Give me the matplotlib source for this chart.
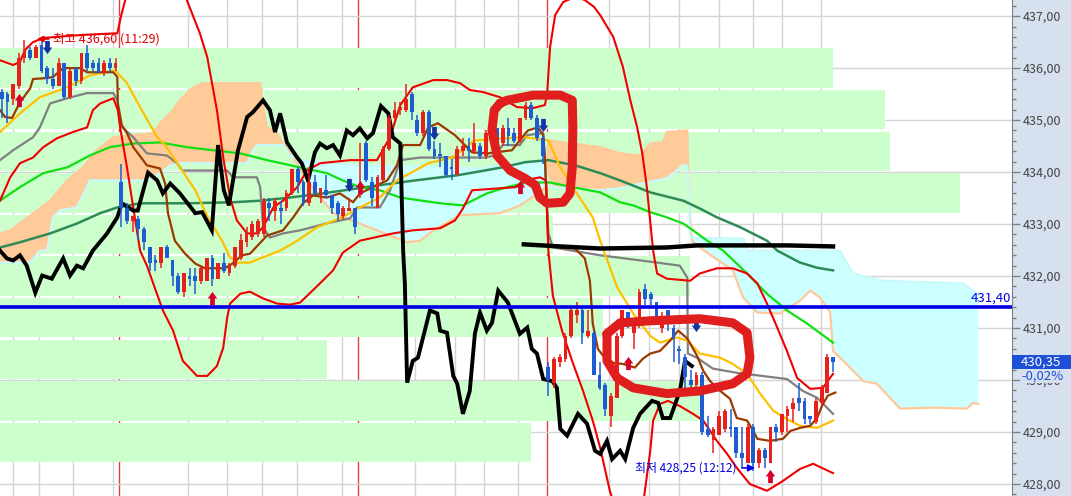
import numpy as np
import matplotlib
matplotlib.use("Agg")
import matplotlib.pyplot as plt
from matplotlib.path import Path
from matplotlib.patches import Rectangle
from matplotlib.ticker import MultipleLocator, FuncFormatter
import matplotlib.transforms as mtransforms

plt.rcParams['font.family'] = ['Noto Sans CJK KR', 'DejaVu Sans']

# ---- candles (bar index 0..146) ----
opens = [435.55, 435.50, 435.40, 435.65, 436.20, 436.35, 436.20, 436.45, 436.00, 435.80,
         435.65, 436.10, 435.45, 436.00, 435.75, 436.30, 436.10, 436.10, 435.90, 436.10,
         436.00, 433.80, 433.30, 433.05, 433.10, 432.90, 432.55, 432.30, 432.25, 432.55,
         432.30, 432.00, 431.70, 432.00, 432.00, 431.90, 431.90, 432.35, 431.95, 432.25,
         432.05, 432.20, 432.35, 432.65, 432.75, 432.80, 432.80, 433.40, 433.25, 433.30,
         433.30, 433.60, 434.05, 433.80, 433.40, 433.80, 433.55, 433.65, 433.55, 433.40,
         433.15, 433.25, 433.30, 433.55, 434.55, 433.80, 433.30, 433.85, 434.45, 435.05,
         435.20, 435.20, 435.50, 435.00, 434.75, 435.15, 434.45, 434.35, 434.30, 434.10,
         433.95, 434.40, 434.50, 434.40, 434.50, 434.30, 434.65, 434.85, 434.55, 434.85,
         434.75, 434.60, 435.05, 435.30, 435.05, 434.65, 430.25, 429.95, 430.35, 430.40,
         430.85, 431.25, 431.35, 430.85, 430.90, 430.10, 429.90, 429.30, 429.65, 430.85,
         431.30, 430.90, 431.05, 431.75, 431.65, 431.50, 431.00, 431.35, 431.00, 430.60,
         430.45, 430.00, 429.90, 430.10, 429.05, 428.85, 428.95, 429.05, 429.10, 429.10,
         428.60, 428.40, 429.10, 428.40, 428.65, 428.40, 429.10, 429.00, 429.30, 429.45,
         429.65, 429.60, 429.30, 429.20, 429.55, 429.75, 430.45]
highs = [435.60, 435.55, 435.70, 436.30, 436.55, 436.40, 436.45, 436.60, 436.05, 436.00,
         436.20, 436.10, 436.00, 436.00, 436.30, 436.45, 436.15, 436.20, 436.15, 436.20,
         436.20, 434.15, 433.40, 433.15, 433.15, 432.95, 432.55, 432.40, 432.55, 432.60,
         432.30, 432.05, 432.05, 432.15, 432.15, 432.20, 432.35, 432.40, 432.25, 432.45,
         432.25, 432.55, 432.80, 432.95, 433.05, 433.10, 433.50, 433.50, 433.50, 433.45,
         433.65, 434.05, 434.10, 433.85, 434.10, 433.95, 433.70, 433.95, 433.55, 433.45,
         433.35, 433.50, 433.30, 434.55, 434.60, 433.90, 433.95, 434.50, 435.10, 435.35,
         435.35, 435.70, 435.55, 435.10, 435.20, 435.20, 434.60, 434.55, 434.30, 434.25,
         434.50, 434.65, 434.65, 434.95, 434.55, 434.80, 435.05, 434.85, 434.90, 435.05,
         434.85, 435.05, 435.35, 435.35, 435.10, 434.70, 430.35, 430.45, 430.50, 430.90,
         431.40, 431.50, 431.40, 431.35, 430.95, 430.35, 429.95, 429.75, 430.90, 431.35,
         431.30, 431.10, 431.75, 431.85, 431.70, 431.50, 431.30, 431.35, 431.05, 430.65,
         430.50, 430.20, 430.15, 430.15, 429.30, 429.10, 429.40, 429.45, 429.45, 429.10,
         429.10, 429.15, 429.15, 428.70, 428.70, 429.10, 429.15, 429.35, 429.50, 429.65,
         429.95, 429.65, 429.30, 429.65, 429.90, 430.50, 430.45]
lows = [435.05, 434.95, 435.30, 435.60, 436.10, 436.15, 436.20, 435.90, 435.70, 435.60,
        435.65, 435.40, 435.40, 435.65, 435.70, 435.95, 435.90, 435.90, 435.85, 435.90,
        435.95, 432.95, 433.00, 432.85, 432.70, 432.50, 432.10, 432.10, 432.15, 432.35,
        431.80, 431.65, 431.60, 431.80, 431.65, 431.85, 431.90, 431.80, 431.95, 432.05,
        432.00, 432.15, 432.30, 432.55, 432.70, 432.75, 432.75, 433.05, 433.05, 433.00,
        433.25, 433.55, 433.60, 433.35, 433.35, 433.55, 433.40, 433.50, 433.20, 433.05,
        433.10, 433.25, 432.80, 433.50, 433.80, 433.35, 433.30, 433.80, 434.40, 435.00,
        435.10, 435.15, 435.00, 434.70, 434.70, 434.40, 434.25, 434.10, 433.90, 433.85,
        433.95, 434.30, 434.20, 434.35, 434.25, 434.25, 434.60, 434.35, 434.50, 434.50,
        434.55, 434.55, 435.00, 435.00, 434.60, 434.15, 429.70, 429.85, 430.25, 430.35,
        430.80, 431.10, 430.70, 430.80, 430.10, 429.80, 429.30, 429.10, 429.65, 430.80,
        431.00, 430.60, 431.00, 431.45, 431.45, 431.20, 430.90, 430.95, 430.35, 430.30,
        429.70, 429.70, 429.80, 428.95, 428.90, 428.60, 428.95, 429.00, 428.90, 428.50,
        428.30, 428.40, 428.25, 428.30, 428.30, 428.40, 428.80, 428.95, 429.00, 429.20,
        429.40, 429.15, 429.15, 429.15, 429.50, 429.75, 430.15]
closes = [435.40, 435.35, 435.70, 436.20, 436.35, 436.20, 436.40, 435.95, 435.80, 435.65,
          436.10, 435.45, 435.95, 435.75, 436.30, 436.00, 436.00, 435.90, 436.10, 436.00,
          436.10, 433.30, 433.05, 433.15, 432.90, 432.65, 432.25, 432.25, 432.55, 432.35,
          432.00, 431.70, 432.05, 431.95, 431.90, 432.15, 432.35, 431.95, 432.25, 432.10,
          432.20, 432.55, 432.70, 432.85, 433.00, 433.05, 433.45, 433.30, 433.45, 433.25,
          433.60, 434.05, 433.80, 433.40, 433.80, 433.60, 433.70, 433.55, 433.30, 433.20,
          433.30, 433.30, 432.95, 433.75, 433.85, 433.50, 433.90, 434.45, 435.05, 435.20,
          435.25, 435.40, 435.15, 434.75, 435.15, 434.45, 434.30, 434.30, 433.95, 434.05,
          434.45, 434.50, 434.40, 434.55, 434.30, 434.75, 435.00, 434.40, 434.85, 434.70,
          434.60, 435.05, 435.30, 435.05, 434.65, 434.30, 430.00, 430.40, 430.45, 430.85,
          431.35, 431.35, 430.90, 430.95, 430.10, 429.85, 429.45, 429.70, 430.85, 431.35,
          431.10, 431.05, 431.70, 431.55, 431.55, 431.20, 431.20, 431.10, 430.80, 430.55,
          430.05, 429.90, 430.10, 429.00, 428.95, 429.05, 429.30, 429.40, 429.05, 428.60,
          428.50, 429.10, 428.40, 428.65, 428.50, 429.10, 429.00, 429.35, 429.45, 429.55,
          429.55, 429.25, 429.25, 429.60, 429.85, 430.45, 430.35]

# ---- indicator lines: (bar index, price) ----
yellow_pts = [(-0.3, 434.77), (3.2, 435.13), (6.7, 435.44), (11.5, 435.63), (15.5, 435.86), (19.9, 435.96),
              (22.0, 435.71), (24.3, 435.25), (27.3, 434.67), (28.7, 434.52), (31.7, 434.03), (34.0, 433.65),
              (36.2, 433.13), (38.7, 432.68), (40.1, 432.36), (41.5, 432.26), (43.6, 432.26), (45.4, 432.34),
              (48.9, 432.49), (51.9, 432.68), (55.4, 432.94), (59.4, 433.11), (62.9, 433.32), (66.4, 433.51),
              (69.4, 433.84), (72.6, 434.03), (74.9, 434.17), (79.1, 434.28), (83.1, 434.61), (88.4, 434.65),
              (91.9, 434.67), (96.0, 434.61), (98.1, 434.09), (101.0, 433.59), (103.8, 433.13), (105.1, 432.68),
              (108.1, 431.78), (110.9, 431.28), (113.9, 430.85), (115.6, 430.72), (118.6, 430.82), (120.4, 430.76),
              (122.6, 430.51), (126.2, 430.43), (128.4, 430.31), (130.9, 430.12), (133.2, 429.74), (135.5, 429.41),
              (137.9, 429.25), (140.2, 429.12), (143.2, 429.08), (146.0, 429.22)]
brown_pts = [(-0.3, 435.19), (0.6, 435.06), (1.8, 435.04), (3.2, 435.34), (5.0, 435.61), (5.5, 435.79),
             (8.0, 435.81), (9.0, 435.83), (10.8, 436.00), (13.8, 436.00), (15.0, 435.92), (19.6, 435.92),
             (20.3, 435.83), (20.4, 435.32), (21.1, 434.90), (22.0, 434.75), (23.1, 434.48), (25.5, 434.13),
             (27.8, 434.07), (28.7, 433.78), (29.2, 433.21), (30.4, 432.68), (32.2, 432.43), (34.0, 432.24),
             (35.7, 432.15), (39.2, 432.15), (40.5, 432.24), (42.2, 432.40), (43.6, 432.43), (46.6, 432.78),
             (49.4, 432.88), (51.2, 433.13), (52.9, 433.40), (54.7, 433.55), (57.1, 433.51), (59.4, 433.59),
             (61.7, 433.42), (62.9, 433.59), (65.2, 433.71), (67.7, 433.84), (69.4, 434.13), (70.5, 434.52),
             (73.5, 434.52), (74.9, 434.86), (76.6, 434.94), (79.6, 434.71), (82.6, 434.38), (85.4, 434.36),
             (89.6, 434.42), (90.7, 434.57), (92.4, 434.80), (94.2, 434.86), (95.1, 434.71), (95.4, 434.28),
             (96.0, 432.59), (98.1, 432.55), (100.7, 432.53), (102.4, 432.34), (103.3, 431.91), (103.8, 431.09),
             (104.7, 430.60), (105.6, 430.47), (107.4, 430.33), (109.1, 430.31), (111.2, 430.24), (112.6, 430.41),
             (113.9, 430.51), (115.6, 430.56), (117.4, 430.76), (118.8, 430.95), (120.4, 430.80), (122.1, 430.47),
             (123.2, 430.18), (124.4, 429.98), (126.2, 429.79), (127.9, 429.64), (129.1, 429.27), (130.9, 429.22),
             (132.0, 429.02), (132.7, 428.87), (134.9, 428.83), (137.2, 428.87), (138.5, 429.02), (140.2, 429.08),
             (142.0, 429.12), (143.2, 429.27), (144.2, 429.54), (145.1, 429.70), (146.4, 429.76)]
gray_pts = [(-0.3, 434.23), (2.0, 434.42), (5.5, 434.67), (6.7, 434.86), (8.5, 435.32), (11.5, 435.42),
            (15.0, 435.52), (19.6, 435.52), (20.3, 435.38), (20.8, 434.90), (23.1, 434.67), (25.5, 434.36),
            (29.0, 434.32), (30.8, 434.17), (31.7, 434.03), (39.6, 434.03), (40.6, 433.90), (44.8, 433.90),
            (45.4, 433.71), (45.9, 432.94), (47.1, 432.74), (49.4, 432.82), (52.4, 432.88), (57.7, 433.03),
            (61.2, 433.11), (62.4, 433.32), (66.4, 433.32), (68.2, 433.65), (70.0, 434.23), (73.5, 434.28),
            (84.9, 434.28), (86.6, 434.32), (88.0, 434.52), (91.0, 434.52), (92.3, 434.71), (95.1, 434.75),
            (95.4, 434.23), (96.0, 432.82), (96.8, 432.55), (105.1, 432.40), (115.1, 432.26), (119.1, 432.20),
            (120.4, 431.97), (120.5, 430.51), (122.1, 430.43), (124.9, 430.22), (129.1, 430.14), (137.9, 430.02),
            (140.7, 429.79), (143.2, 429.66), (146.0, 429.35)]
green_pts = [(-0.3, 433.45), (3.2, 433.71), (7.3, 433.98), (11.5, 434.09), (15.5, 434.32), (19.0, 434.48),
             (23.1, 434.55), (27.8, 434.57), (32.5, 434.48), (37.1, 434.42), (41.9, 434.36), (46.6, 434.23),
             (52.4, 434.09), (57.1, 433.98), (59.9, 433.84), (62.9, 433.71), (66.4, 433.65), (70.0, 433.51),
             (77.0, 433.40), (81.0, 433.36), (85.2, 433.59), (88.7, 433.71), (92.3, 433.80), (96.3, 433.80),
             (100.3, 433.71), (105.1, 433.61), (108.6, 433.42), (110.9, 433.36), (113.9, 433.23), (116.8, 433.13),
             (119.7, 433.01), (121.4, 432.88), (123.9, 432.68), (126.7, 432.49), (130.9, 432.05), (134.4, 431.66),
             (137.9, 431.34), (141.4, 431.09), (146.0, 430.72)]
dkgreen_pts = [(-0.3, 432.55), (3.2, 432.65), (8.5, 432.82), (13.2, 433.01), (17.3, 433.21), (20.3, 433.32),
               (24.3, 433.40), (32.5, 433.40), (40.6, 433.42), (45.4, 433.45), (50.6, 433.51), (56.4, 433.59),
               (65.2, 433.73), (72.6, 433.84), (80.1, 433.94), (87.9, 434.09), (91.9, 434.19), (96.0, 434.23),
               (100.7, 434.13), (105.1, 433.98), (108.6, 433.84), (113.9, 433.61), (119.7, 433.45), (122.6, 433.30),
               (125.6, 433.13), (129.7, 432.94), (134.4, 432.68), (136.2, 432.49), (140.2, 432.26), (143.2, 432.16),
               (146.0, 432.11)]
lagging_pts = [(-0.3, 432.49), (0.9, 432.34), (2.0, 432.30), (3.2, 432.40), (4.4, 432.20), (5.9, 431.68),
               (7.1, 432.01), (8.8, 431.95), (10.8, 432.34), (12.0, 432.01), (13.2, 432.20), (14.3, 432.15),
               (16.0, 432.49), (18.5, 432.82), (20.3, 433.13), (21.1, 433.40), (23.1, 433.26), (23.9, 433.26),
               (25.7, 433.99), (27.3, 433.84), (28.3, 433.59), (29.6, 433.78), (31.3, 433.59), (34.0, 433.21),
               (35.2, 433.23), (36.9, 432.88), (38.0, 434.52), (39.0, 433.65), (39.9, 433.36), (41.5, 434.42),
               (43.1, 435.06), (44.1, 435.15), (45.9, 435.38), (47.1, 435.19), (48.0, 434.77), (48.9, 435.13),
               (50.1, 434.57), (51.9, 434.28), (52.7, 434.17), (53.8, 433.84), (55.0, 434.38), (55.9, 434.55),
               (57.1, 434.46), (58.2, 434.52), (59.4, 434.32), (60.6, 434.80), (61.7, 434.71), (62.9, 434.84),
               (64.2, 434.65), (65.2, 434.75), (66.6, 435.27), (67.9, 435.13), (68.7, 434.67), (70.0, 434.55),
               (70.5, 432.49), (70.8, 431.86), (71.2, 429.95), (72.2, 430.37), (73.1, 430.43), (75.2, 431.34),
               (76.5, 431.28), (77.0, 430.95), (78.2, 430.91), (79.3, 430.08), (80.0, 429.93), (81.0, 429.35),
               (82.2, 429.79), (83.1, 430.89), (84.0, 431.30), (85.2, 430.95), (86.1, 431.10), (87.2, 431.72),
               (88.9, 431.49), (91.0, 430.89), (92.3, 431.01), (93.1, 430.60), (94.0, 430.51), (95.1, 430.02),
               (96.7, 429.98), (97.5, 429.85), (98.1, 429.06), (99.3, 428.93), (101.2, 429.35), (102.8, 429.16),
               (104.2, 428.64), (105.1, 428.58), (106.3, 428.83), (107.2, 428.48), (108.6, 428.64), (109.5, 428.48),
               (110.9, 429.08), (112.1, 429.35), (114.2, 429.60), (115.3, 429.56), (116.1, 429.27), (117.4, 429.27),
               (119.1, 429.79), (120.0, 430.37), (121.2, 430.27)]
flat_black_pts = [(91.7, 432.61), (98.1, 432.57), (105.1, 432.53), (116.8, 432.55), (122.1, 432.59),
                  (137.9, 432.59), (146.0, 432.57)]
upper_band_pts = [(-0.3, 436.15), (2.0, 436.06), (3.2, 436.12), (4.1, 436.35), (5.5, 436.50), (7.3, 436.58),
                  (14.3, 436.64), (20.3, 436.67), (21.0, 437.02), (21.7, 437.31), (24.3, 438.18), (26.9, 438.47),
                  (29.9, 438.08), (32.5, 437.31), (34.8, 436.67), (36.1, 436.21), (37.8, 435.19), (38.9, 434.28),
                  (40.1, 433.51), (41.3, 433.07), (43.1, 432.82), (44.8, 432.82), (45.9, 432.94), (47.7, 433.32),
                  (49.4, 433.45), (51.9, 433.71), (53.6, 434.03), (55.9, 434.17), (61.2, 434.23), (65.9, 434.23),
                  (68.2, 434.67), (70.0, 435.29), (72.2, 435.63), (75.8, 435.77), (78.2, 435.77), (80.5, 435.71),
                  (82.2, 435.58), (84.5, 435.54), (87.5, 435.44), (90.5, 435.25), (93.3, 435.23), (95.4, 435.29),
                  (95.8, 435.52), (96.3, 436.40), (97.2, 437.02), (98.6, 437.27), (100.7, 437.37), (102.4, 437.31),
                  (104.0, 437.18), (105.1, 437.02), (107.4, 436.60), (109.1, 436.02), (110.4, 435.38), (111.6, 434.86),
                  (112.5, 434.36), (113.3, 433.71), (114.4, 432.49), (115.1, 432.05), (116.8, 431.95), (120.9, 431.91),
                  (122.6, 432.05), (125.6, 432.15), (128.4, 432.15), (130.9, 432.05), (132.7, 431.86), (134.4, 431.47),
                  (136.2, 431.01), (137.9, 430.56), (139.7, 430.04), (142.0, 429.83), (144.2, 429.85), (146.0, 430.12)]
lower_band_pts = [(-0.3, 433.45), (1.5, 433.90), (3.2, 434.17), (5.5, 434.28), (7.3, 434.48), (9.7, 434.65),
                  (12.5, 434.77), (15.0, 434.86), (16.0, 435.19), (17.3, 435.32), (19.6, 435.42), (20.4, 435.19),
                  (20.8, 434.86), (22.0, 434.09), (23.1, 433.32), (24.3, 432.49), (25.5, 432.20), (28.3, 431.34),
                  (30.1, 430.95), (31.8, 430.37), (34.3, 430.08), (36.1, 430.08), (37.8, 430.27), (38.9, 430.62),
                  (39.6, 431.20), (40.1, 431.47), (41.9, 431.66), (43.6, 431.70), (45.9, 431.57), (48.4, 431.47),
                  (50.6, 431.45), (52.4, 431.49), (55.9, 431.86), (58.2, 432.11), (59.9, 432.45), (62.9, 432.68),
                  (68.7, 432.82), (72.2, 432.88), (77.0, 432.92), (79.6, 433.07), (81.0, 433.30), (82.6, 433.65),
                  (90.2, 433.71), (91.9, 433.84), (94.5, 433.90), (95.6, 433.84), (96.0, 432.49), (96.8, 431.62),
                  (98.4, 430.95), (100.3, 430.33), (102.1, 429.79), (103.8, 429.22), (105.1, 428.70), (106.8, 427.87),
                  (108.2, 427.39), (110.4, 427.10), (112.6, 427.58), (113.9, 428.64), (114.4, 429.22), (115.6, 429.54),
                  (117.0, 429.60), (119.1, 429.50), (121.4, 429.35), (123.2, 429.22), (125.6, 428.83), (127.4, 428.58),
                  (129.1, 428.31), (131.4, 428.00), (134.4, 427.87), (137.2, 428.06), (140.2, 428.29), (142.5, 428.39),
                  (146.0, 428.21)]

# ichimoku leading spans
span_a_pts = [(-0.3, 432.82), (1.5, 432.88), (8.5, 433.45), (11.5, 433.84), (14.3, 434.09), (16.7, 434.42),
              (19.6, 434.67), (26.6, 434.75), (27.8, 434.94), (29.6, 435.13), (31.3, 435.38), (33.6, 435.63),
              (35.4, 435.71), (45.4, 435.71), (45.7, 435.38), (46.6, 434.86), (48.4, 434.75), (49.4, 434.55),
              (51.2, 434.28), (54.2, 433.75), (58.2, 433.21), (65.9, 432.88), (71.2, 432.65), (73.5, 432.68),
              (75.8, 432.88), (80.5, 433.17), (87.5, 433.21), (91.0, 433.36), (93.7, 433.55), (95.6, 433.71),
              (96.0, 434.61), (105.1, 434.48), (108.6, 434.36), (112.1, 434.32), (113.9, 434.55), (116.1, 434.57),
              (116.8, 434.77), (120.4, 434.80), (120.7, 433.45), (121.2, 432.68), (122.6, 432.55), (128.4, 432.11),
              (130.2, 431.59), (132.7, 431.30), (136.7, 431.28), (140.2, 431.53), (142.0, 431.72), (143.7, 431.59),
              (145.5, 431.30), (146.0, 430.56), (147.8, 430.37), (151.3, 429.98), (153.7, 429.93), (156.5, 429.60),
              (157.8, 429.45), (163.6, 429.47), (169.5, 429.45), (170.6, 429.56), (171.5, 429.54)]
span_b_pts = [(-0.3, 432.26), (5.0, 432.26), (6.7, 432.49), (8.0, 432.49), (9.0, 433.13), (10.2, 433.26),
              (13.2, 433.32), (15.5, 433.84), (25.5, 433.84), (27.8, 433.98), (29.6, 434.13), (31.3, 434.17),
              (43.1, 434.17), (44.1, 434.42), (44.8, 434.52), (49.4, 434.52), (50.6, 434.32), (52.4, 434.23),
              (62.9, 434.13), (70.0, 434.11), (84.0, 434.07), (91.0, 434.19), (95.4, 434.23), (95.8, 433.88),
              (96.8, 433.71), (105.1, 433.65), (108.6, 433.69), (110.9, 433.75), (113.3, 433.80), (116.8, 433.88),
              (118.6, 434.03), (119.5, 434.13), (120.3, 434.13), (120.5, 433.98), (120.9, 432.74), (130.2, 432.72),
              (131.1, 432.49), (147.2, 432.49), (149.5, 432.05), (154.8, 431.91), (168.8, 431.86), (171.3, 431.66),
              (171.5, 431.66)]

# volume-at-price bands: top edges and where each band ends (bar index)
band_tops = [436.4, 435.6, 434.8, 434.0, 433.2, 432.4, 431.6, 430.8, 430.0, 429.2]
band_ends = [146.0, 155.1, 156.0, 168.3, 96.8, 120.9, 105.6, 57.1, 122.6, 93.0]

buy_signals = [(3, 435.38), (37, 431.57), (63, 433.71), (91, 433.71), (110, 430.33), (135, 428.15)]
sell_signals = [(8, 436.40), (61, 433.75), (76, 434.75), (95, 434.90), (122, 431.05)]

grid_x = [2.0, 6.6, 12.5, 19.6, 32.7, 39.6, 45.7, 51.9, 59.8, 72.6, 79.6, 84.7, 90.7,
          106.7, 113.7, 119.0, 126.0, 132.0, 137.0, 143.9]
day_x = [20.6, 62.6, 95.8]

ref_price = 431.40
last_price = 430.35
last_change = "-0,02%"

# hand drawn marks
circle1_pts = [(87.5, 435.32), (88.7, 435.38), (93.3, 435.48), (98.1, 435.48), (100.2, 435.38), (100.3, 434.86),
               (100.2, 434.09), (99.8, 433.59), (98.6, 433.42), (95.8, 433.40), (94.5, 433.51), (93.7, 433.75),
               (91.9, 433.88), (89.3, 434.03), (87.0, 434.32), (86.1, 434.80), (86.5, 435.19), (87.5, 435.32)]
circle2_pts = [(106.3, 430.89), (108.6, 431.10), (113.9, 431.14), (122.6, 431.18), (128.4, 431.10), (130.9, 430.91),
               (131.4, 430.43), (130.9, 430.12), (128.4, 429.93), (122.6, 429.79), (116.8, 429.74), (110.9, 429.85),
               (108.1, 430.04), (106.3, 430.37), (106.3, 430.89)]


def xy(pts):
    a = np.array(pts)
    return a[:, 0], a[:, 1]


panel = '#D6E0EE'
fig = plt.figure(figsize=(10.71, 4.96), dpi=100, facecolor=panel)
ax = fig.add_axes([0, 0, 1012 / 1071, 1])
ax.set_facecolor('white')
ax.set_xlim(-0.3, 177.43)
ax.set_ylim(427.77, 437.31)

# grid
for gx in grid_x:
    ax.axvline(gx, color='#D4D4D4', lw=1, zorder=0)
for gx in day_x:
    ax.axvline(gx, color='#E04040', lw=1, zorder=0)
for gy in range(428, 438):
    ax.axhline(gy, color='#D4D4D4', lw=1, zorder=0)

# bands
for top, end in zip(band_tops, band_ends):
    ax.barh(top - 0.4, end + 0.3, left=-0.3, height=0.76, color='#CCFFCC', lw=0, zorder=1)

# cloud
ax_, ay_ = xy(span_a_pts)
bx_, by_ = xy(span_b_pts)
cx = np.union1d(ax_, bx_)
ca = np.interp(cx, ax_, ay_)
cb = np.interp(cx, bx_, by_)
ax.fill_between(cx, ca, cb, where=ca >= cb, interpolate=True, color='#FFCC99', lw=0, zorder=2)
ax.fill_between(cx, ca, cb, where=ca < cb, interpolate=True, color='#CCFFFF', lw=0, zorder=2)
ax.plot(ax_, ay_, color='#FFC899', lw=1.6, zorder=3)
ax.plot(bx_, by_, color='#C8FAFA', lw=1.6, zorder=3)

# indicator lines
ax.plot(*xy(dkgreen_pts), color='#2E8B57', lw=1.8, zorder=4)
ax.plot(*xy(green_pts), color='#10E010', lw=1.6, zorder=4)
ax.plot(*xy(gray_pts), color='#808080', lw=1.6, zorder=4)
ax.plot(*xy(yellow_pts), color='#FFC000', lw=1.6, zorder=4)
ax.plot(*xy(brown_pts), color='#9A3A00', lw=1.6, zorder=4)
ax.plot(*xy(upper_band_pts), color='#F00000', lw=1.5, zorder=4)
ax.plot(*xy(lower_band_pts), color='#F00000', lw=1.5, zorder=4)
ax.plot(*xy(lagging_pts), color='black', lw=2.8, zorder=4.5, solid_joinstyle='miter')
ax.plot(*xy(flat_black_pts), color='black', lw=3.2, zorder=4.5)

# candles
idx = np.arange(len(opens))
o = np.array(opens)
c = np.array(closes)
cols = np.where(c >= o, '#E8201C', '#1E5CCF')
ax.vlines(idx, lows, highs, colors=cols, lw=1.1, zorder=5)
ax.bar(idx, np.maximum(np.abs(c - o), 0.02), bottom=np.minimum(o, c), width=0.66,
       color=cols, lw=0, zorder=5.1)

# signal arrows
up_arrow = Path([(-0.18, -0.5), (0.18, -0.5), (0.18, 0.0), (0.36, 0.0), (0, 0.5), (-0.36, 0.0),
                 (-0.18, 0.0), (-0.18, -0.5)], closed=True)
down_arrow = Path([(-0.18, 0.5), (0.18, 0.5), (0.18, 0.0), (0.36, 0.0), (0, -0.5), (-0.36, 0.0),
                   (-0.18, 0.0), (-0.18, 0.5)], closed=True)
bx, by = xy(buy_signals)
ax.plot(bx, by, ls='none', marker=up_arrow, ms=9.5, color='#D8002A', mew=0, zorder=6)
sx, sy = xy(sell_signals)
ax.plot(sx, sy, ls='none', marker=down_arrow, ms=9.5, color='#1434A4', mew=0, zorder=6)

# reference line
ax.axhline(ref_price, color='#0000E6', lw=2.6, zorder=6)
ax.text(177.2, ref_price + 0.05, f"{ref_price:.2f}".replace('.', ','), ha='right', va='bottom',
        color='#0000E6', fontsize=9.5, zorder=7)

# high / low labels
ax.annotate('최고 436,60 (11:29)', xy=(6.2, 436.56), xytext=(9.0, 436.56), color='#E00000', fontsize=9,
            va='center', ha='left', zorder=7,
            arrowprops=dict(arrowstyle='-|>', color='#E00000', lw=1.2, mutation_scale=9, shrinkA=1, shrinkB=0))
ax.annotate('최저 428,25 (12:12)', xy=(132.3, 428.31), xytext=(111.2, 428.31), color='#0000E0', fontsize=8.6,
            va='center', ha='left', zorder=7,
            arrowprops=dict(arrowstyle='-|>', color='#0000E0', lw=1.2, mutation_scale=10, shrinkA=2, shrinkB=0))

# hand drawn circles
ax.plot(*xy(circle1_pts), color='#E01E1E', lw=6.5, solid_capstyle='round', solid_joinstyle='round', zorder=8)
ax.plot(*xy(circle2_pts), color='#E01E1E', lw=6.5, solid_capstyle='round', solid_joinstyle='round', zorder=8)

# right price axis
for s in ['top', 'left', 'bottom']:
    ax.spines[s].set_visible(False)
ax.spines['right'].set_color('#808080')
ax.set_xticks([])
ax.yaxis.tick_right()
ax.yaxis.set_major_locator(MultipleLocator(1.0))
ax.yaxis.set_minor_locator(MultipleLocator(0.2))
ax.yaxis.set_major_formatter(FuncFormatter(lambda v, _: f"{v:.2f}".replace('.', ',')))
ax.tick_params(axis='y', which='major', length=6, width=1, color='#808080', labelsize=9,
               labelcolor='#444444', pad=2)
ax.tick_params(axis='y', which='minor', length=3, width=1, color='#808080')

# last price box on the axis panel
trans = mtransforms.blended_transform_factory(ax.transAxes, ax.transData)
panel_w = (1071 - 1012) / 1012
ax.add_patch(Rectangle((1.0, last_price - 0.13), panel_w, 0.26, transform=trans, clip_on=False,
                       fc='#1E4FD8', ec='none', zorder=9))
ax.text(1.009, last_price, f"{last_price:.2f}".replace('.', ','), transform=trans, ha='left', va='center',
        color='white', fontsize=9.5, clip_on=False, zorder=10)
ax.text(1.009, last_price - 0.27, last_change, transform=trans, ha='left', va='center',
        color='#1E4FD8', fontsize=9.5, clip_on=False, zorder=10,
        bbox=dict(boxstyle='square,pad=0.05', fc=panel, ec='none'))

fig.savefig('out.png', dpi=100, facecolor=fig.get_facecolor())
